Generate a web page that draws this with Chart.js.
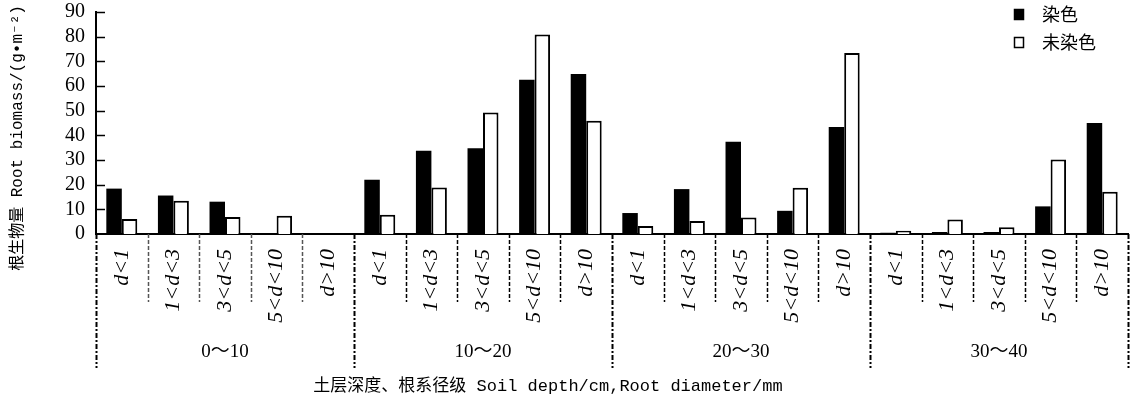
<!DOCTYPE html>
<html>
<head>
<meta charset="utf-8">
<script src="https://cdn.jsdelivr.net/npm/chart.js@4/dist/chart.umd.min.js"></script>
<style>
  body { margin: 0; background: #fff; }
  #wrap { width: 1135px; height: 407px; position: relative; }
</style>
</head>
<body>
<div id="wrap"><canvas id="rootChart"></canvas></div>
<script>
// soil depth groups (cm) and root diameter classes (mm)
var groups = ['0～10', '10～20', '20～30', '30～40'];
var diameters = ['d<1', '1<d<3', '3<d<5', '5<d<10', 'd>10'];
var seriesNames = ['染色', '未染色'];
var stained = [18.4, 15.6, 13.1, 0, 0, 22.0, 33.8, 34.8, 62.5, 64.9, 8.5, 18.2, 37.4, 9.4, 43.4, 0.5, 0.8, 0.8, 11.2, 45.0];
var unstained = [6.1, 13.5, 6.9, 7.4, 0, 7.8, 18.9, 49.3, 80.9, 45.9, 3.2, 5.3, 6.7, 18.7, 73.4, 1.3, 5.9, 2.7, 30.2, 17.1];
var yTicks = [0, 10, 20, 30, 40, 50, 60, 70, 80, 90];

var labels = [];
groups.forEach(function (g) {
    diameters.forEach(function (d) { labels.push(g + ' ' + d); });
});

var extras = {
    id: 'extras',
    afterDraw: function (chart) {
        var c = chart.ctx, x = chart.scales.x, y = chart.scales.y, a = chart.chartArea;
        c.save();
        // inward y ticks
        c.strokeStyle = '#000';
        c.lineWidth = 1.5;
        yTicks.forEach(function (v) {
            if (v === 0) return;
            var py = Math.round(y.getPixelForValue(v)) + 0.5;
            c.beginPath(); c.moveTo(a.left, py); c.lineTo(a.left + 9, py); c.stroke();
        });
        // dividers below axis
        var n = labels.length;
        var step = (a.right - a.left) / n;
        for (var i = 0; i <= n; i++) {
            var px = Math.round(a.left + i * step) + 0.5;
            var major = (i % diameters.length === 0);
            c.lineWidth = major ? 2 : 1.5;
            c.strokeStyle = (i < 5 && !major) ? '#555' : '#000';
            c.setLineDash(major ? [5, 2, 2, 2] : [4, 2]);
            c.beginPath();
            c.moveTo(px, a.bottom);
            c.lineTo(px, major ? 368 : 302);
            c.stroke();
        }
        c.setLineDash([]);
        // group labels
        c.fillStyle = '#000';
        c.font = '19px "Liberation Serif", "Noto Sans CJK SC", serif';
        c.textAlign = 'center';
        c.textBaseline = 'middle';
        groups.forEach(function (g, gi) {
            var cx = (x.getPixelForValue(gi * 5) + x.getPixelForValue(gi * 5 + 4)) / 2;
            c.fillText(g, cx, 352);
        });
        // axis titles
        c.font = '17px "Liberation Mono", "Noto Sans CJK SC", monospace';
        c.fillText('土层深度、根系径级 Soil depth/cm,Root diameter/mm', 548, 386);
        c.save();
        c.translate(18, 138);
        c.rotate(-Math.PI / 2);
        c.font = '16px "Liberation Mono", "Noto Sans CJK SC", monospace';
        c.fillText('根生物量 Root biomass/(g•m⁻²)', 0, 0);
        c.restore();
        // legend
        c.font = '18px "Noto Sans CJK SC", sans-serif';
        c.textAlign = 'left';
        chart.data.datasets.forEach(function (ds, di) {
            var ly = 14 + di * 28;
            c.fillStyle = ds.backgroundColor;
            c.fillRect(1014, ly - 5, 10, 11);
            c.strokeStyle = '#000';
            c.lineWidth = 1.5;
            c.strokeRect(1014.5, ly - 4.5, 9, 10);
            c.fillStyle = '#000';
            c.fillText(ds.label, 1042, ly);
        });
        c.restore();
    }
};

new Chart(document.getElementById('rootChart'), {
    type: 'bar',
    data: {
        labels: labels,
        datasets: [{
            label: seriesNames[0],
            data: stained,
            backgroundColor: '#000',
            borderColor: '#000',
            borderWidth: 0
        }, {
            label: seriesNames[1],
            data: unstained,
            backgroundColor: '#fff',
            borderColor: '#000',
            borderWidth: 2
        }]
    },
    options: {
        responsive: true,
        maintainAspectRatio: false,
        animation: false,
        layout: { padding: { top: 12, right: 7, left: 0, bottom: 0 } },
        plugins: { legend: { display: false }, tooltip: { enabled: false } },
        datasets: { bar: { categoryPercentage: 0.6, barPercentage: 1 } },
        scales: {
            x: {
                grid: { display: false, drawTicks: false },
                border: { display: true, color: '#000', width: 2, dash: [6, 2, 2, 2] },
                ticks: {
                    autoSkip: false,
                    minRotation: 90,
                    maxRotation: 90,
                    padding: 15,
                    color: '#000',
                    font: { family: '"Liberation Serif", serif', size: 22, style: 'italic' },
                    callback: function (v, i) { return diameters[i % diameters.length]; }
                },
                afterFit: function (s) {
                    s.height = 173;
                    s.paddingLeft = 0;
                    s.paddingRight = 0;
                }
            },
            y: {
                min: 0,
                max: 90,
                grid: { display: false, drawTicks: false },
                border: { display: true, color: '#000', width: 2 },
                ticks: {
                    autoSkip: false,
                    stepSize: 10,
                    padding: 11,
                    color: '#000',
                    font: { family: '"Liberation Serif", serif', size: 20 }
                },
                afterBuildTicks: function (s) { s.ticks = yTicks.map(function (v) { return { value: v }; }); },
                afterFit: function (s) {
                    s.width = 96;
                    s.paddingTop = 0;
                    s.paddingBottom = 0;
                }
            }
        }
    },
    plugins: [extras]
});
</script>
</body>
</html>
